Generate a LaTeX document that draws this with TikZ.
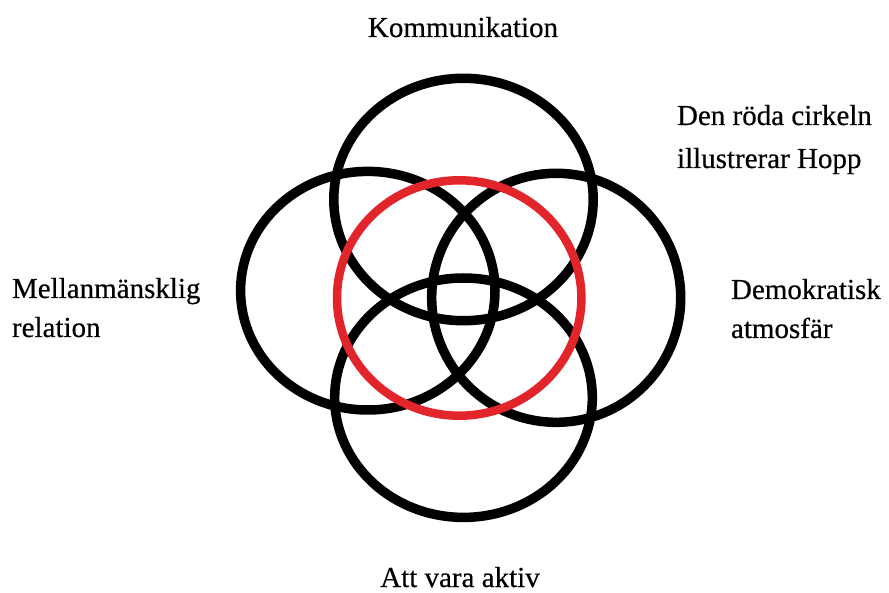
\documentclass[tikz,border=0pt]{standalone}
\usepackage{fontspec}
\setmainfont{Liberation Serif}[FakeBold=0.4]
\definecolor{hopred}{RGB}{226,37,43}
\begin{document}
\begin{tikzpicture}[x=1pt,y=-1pt,
  ring/.style={draw=black,line width=9.5pt},
  hopering/.style={draw=hopred,line width=8.5pt},
  lbl/.style={inner sep=0pt,outer sep=0pt,font=\fontsize{29}{39}\selectfont},
  widelbl/.style={lbl,font=\fontsize{29}{43}\selectfont}]
\useasboundingbox (0,0) rectangle (889,593);
\fill[white] (0,0) rectangle (889,593);
% four black rings
\draw[ring] (463.5,199.5) ellipse [x radius=129.7pt, y radius=121.2pt];
\draw[ring] (367.8,290.7) ellipse [x radius=127.2pt, y radius=119.3pt];
\draw[ring] (556.2,297.8) ellipse [x radius=124.5pt, y radius=124.5pt];
\draw[ring] (463.5,397.7) ellipse [x radius=128.8pt, y radius=119.7pt];
% red ring
\draw[hopering] (459.2,298) ellipse [x radius=122.2pt, y radius=117.7pt];
% labels (base anchor = baseline of the last line)
\node[lbl,anchor=base] (komm) at (463,37) {Kommunikation};
\node[widelbl,anchor=base west,align=left] (hopp) at (677,168) {Den röda cirkeln\\illustrerar Hopp};
\node[lbl,anchor=base west,align=left] (mell) at (12,337) {Mellanmänsklig\\relation};
\node[lbl,anchor=base west,align=left] (demo) at (731,338) {Demokratisk\\atmosfär};
\node[lbl,anchor=base] (akt) at (460,587) {Att vara aktiv};
\end{tikzpicture}
\end{document}
